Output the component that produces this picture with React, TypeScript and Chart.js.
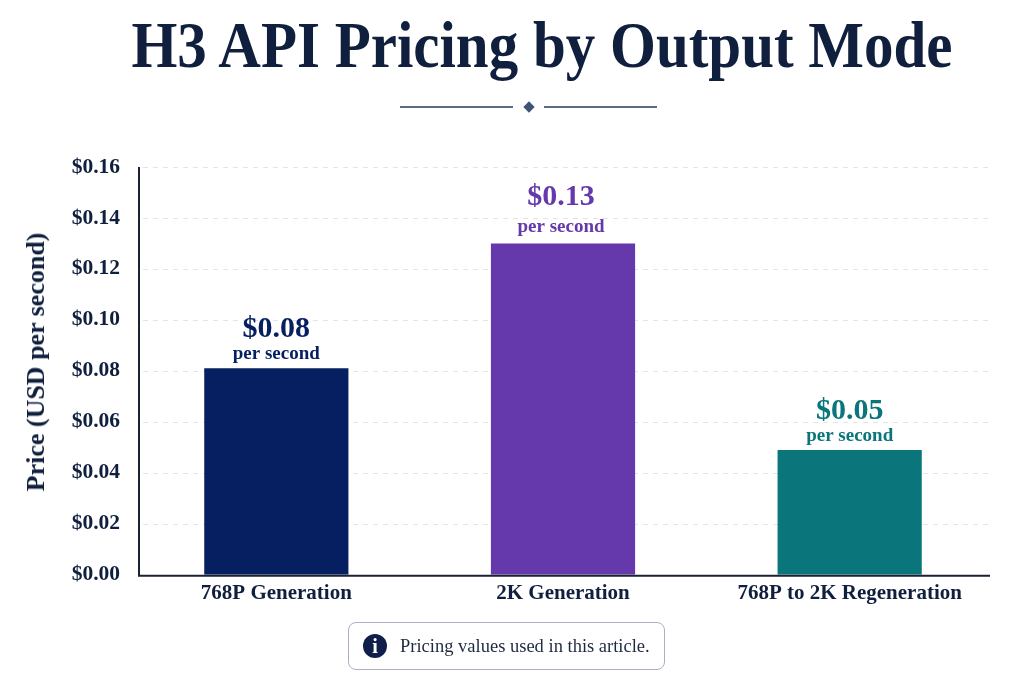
import { useEffect, useRef } from "react";
import Chart from "chart.js/auto";

const modes = ["768P Generation", "2K Generation", "768P to 2K Regeneration"];
const prices = [0.081, 0.13, 0.049];
const barColors = ["#051f60", "#6538ab", "#0a757a"];
const yTicks = [0, 0.02, 0.04, 0.06, 0.08, 0.1, 0.12, 0.14, 0.16];

const serif = '"Liberation Serif", serif';
const navy = "#0f1f3d";

// axis lines and dashes stop short of the chart area on both sides,
// the bars sit a bit off the even category spacing otherwise
const frame = {
  id: "frame",
  beforeDatasetsDraw(chart) {
    const { ctx, chartArea, scales } = chart;
    const left = chartArea.left + 6;
    const right = chartArea.right - 3;
    ctx.save();
    ctx.strokeStyle = "#e2e4e8";
    ctx.lineWidth = 1;
    ctx.setLineDash([5, 5]);
    yTicks.slice(1).forEach((t) => {
      const y = Math.round(scales.y.getPixelForValue(t)) + 0.5;
      ctx.beginPath();
      ctx.moveTo(left + 4, y);
      ctx.lineTo(right, y);
      ctx.stroke();
    });
    ctx.restore();
  },
  afterDatasetsDraw(chart) {
    const { ctx, chartArea, scales } = chart;
    const left = chartArea.left + 6;
    const right = chartArea.right - 3;
    const bottom = scales.y.getPixelForValue(0);
    const top = scales.y.getPixelForValue(0.16);
    ctx.save();
    ctx.strokeStyle = "#1a2233";
    ctx.lineWidth = 2;
    ctx.beginPath();
    ctx.moveTo(left, top);
    ctx.lineTo(left, bottom + 1);
    ctx.lineTo(right, bottom + 1);
    ctx.stroke();
    ctx.restore();
  },
};

const barLabels = {
  id: "barLabels",
  afterDatasetsDraw(chart) {
    const { ctx } = chart;
    const bars = chart.getDatasetMeta(0).data;
    ctx.save();
    ctx.textAlign = "center";
    bars.forEach((bar, i) => {
      // the tallest bar has its label a little higher up
      const lift = i === 1 ? 7 : 0;
      const x = i === 1 ? bar.x - 2 : bar.x;
      ctx.fillStyle = barColors[i];
      ctx.font = `bold 30px ${serif}`;
      ctx.fillText("$" + prices[i].toFixed(2), x, bar.y - 31 - lift);
      ctx.font = `bold 19px ${serif}`;
      ctx.fillText("per second", x, bar.y - 9 - lift / 3);
    });
    ctx.restore();
  },
};

export default function App() {
  const ref = useRef<HTMLCanvasElement>(null);

  useEffect(() => {
    const chart = new Chart(ref.current, {
      type: "bar",
      data: {
        labels: modes,
        datasets: [
          {
            data: prices,
            backgroundColor: barColors,
            barPercentage: 0.503,
            categoryPercentage: 1,
          },
        ],
      },
      options: {
        animation: false,
        responsive: false,
        devicePixelRatio: 1,
        layout: { padding: { left: 0, right: 31, top: 167, bottom: 71 } },
        plugins: {
          legend: { display: false },
          tooltip: { enabled: false },
        },
        scales: {
          x: {
            grid: { display: false, drawTicks: false },
            border: { display: false },
            ticks: {
              color: navy,
              padding: 6,
              maxRotation: 0,
              font: { family: serif, weight: "bold", size: 21 },
            },
          },
          y: {
            min: 0,
            max: 0.16,
            afterFit: (scale) => {
              scale.width = 133;
            },
            grid: { display: false, drawTicks: false },
            border: { display: false },
            ticks: {
              stepSize: 0.02,
              color: navy,
              padding: 13,
              font: { family: serif, weight: "bold", size: 21.5 },
              callback: (v) => "$" + Number(v).toFixed(2),
            },
          },
        },
      },
      plugins: [frame, barLabels],
    });
    return () => chart.destroy();
  }, []);

  return (
    <div style={{ position: "absolute", inset: 0, width: 1024, height: 683, background: "#fff", fontFamily: serif, overflow: "hidden" }}>
      <div style={{ position: "absolute", left: 0, width: 1084, top: 5, textAlign: "center", fontSize: 59, fontWeight: "bold", color: navy, lineHeight: "80px", whiteSpace: "nowrap", transform: "scaleY(1.12)" }}>
        H3 API Pricing by Output Mode
      </div>
      <div style={{ position: "absolute", left: 400, top: 106, width: 113, height: 1.5, background: "#5b6b85" }} />
      <div style={{ position: "absolute", left: 525, top: 103, width: 8, height: 8, background: "#3f5478", transform: "rotate(45deg)" }} />
      <div style={{ position: "absolute", left: 544, top: 106, width: 113, height: 1.5, background: "#5b6b85" }} />
      <canvas ref={ref} width={1024} height={683} style={{ position: "absolute", left: 0, top: 0 }} />
      <div style={{ position: "absolute", left: 36, top: 362, transform: "translate(-50%, -50%) rotate(-90deg)", fontSize: 26, fontWeight: "bold", color: navy, whiteSpace: "nowrap" }}>
        Price (USD per second)
      </div>
      <div style={{ position: "absolute", left: 348, top: 622, width: 315, height: 46, border: "1px solid #a9b0bf", borderRadius: 8, background: "#fff" }}>
        <div style={{ position: "absolute", left: 14, top: 11, width: 24, height: 24, borderRadius: 12, background: "#0f1f4a", color: "#fff", fontSize: 20, fontWeight: "bold", textAlign: "center", lineHeight: "24px" }}>i</div>
        <div style={{ position: "absolute", left: 51, top: 0, lineHeight: "46px", fontSize: 18.5, color: "#1f2a40", whiteSpace: "nowrap" }}>
          Pricing values used in this article.
        </div>
      </div>
    </div>
  );
}
